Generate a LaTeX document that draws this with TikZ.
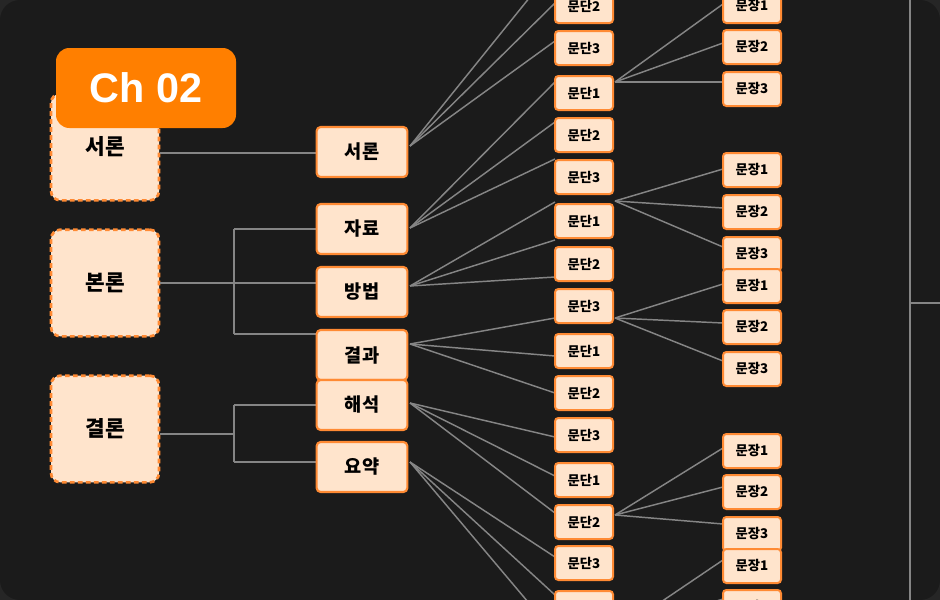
\documentclass[tikz,border=0pt]{standalone}
\usepackage{fontspec}
\setmainfont{Noto Sans CJK KR}
\newfontfamily\badgefont{Liberation Sans}
\definecolor{bgc}{HTML}{1B1B1B}
\definecolor{outc}{HTML}{262626}
\definecolor{peach}{HTML}{FFE4CC}
\definecolor{edgeo}{HTML}{FF8A33}
\definecolor{badge}{HTML}{FF7F00}
\definecolor{linec}{HTML}{858585}
\tikzset{
  pbox/.style={draw=edgeo,fill=peach,line width=1.5pt,rounded corners=2.5pt,minimum width=43.5pt,minimum height=25.5pt,inner sep=0pt,font=\fontsize{10}{12}\selectfont\bfseries},
  mbox/.style={draw=edgeo,fill=peach,line width=1.6pt,rounded corners=3pt,minimum width=68pt,minimum height=37.5pt,inner sep=0pt,font=\fontsize{14}{16}\selectfont\bfseries},
  sbox/.style={draw=edgeo,fill=peach,line width=2pt,dash pattern=on 3.5pt off 2.5pt,rounded corners=7pt,minimum width=81pt,minimum height=80pt,inner sep=0pt,font=\fontsize{16}{18}\selectfont\bfseries},
  conn/.style={draw=linec,line width=1.1pt},
}
\begin{document}
\begin{tikzpicture}[x=0.75pt,y=-0.75pt]
\useasboundingbox (0,0) rectangle (940,600);
\fill[outc] (0,0) rectangle (940,600);
\fill[bgc,rounded corners=15pt] (0,0) rectangle (940,600);
\begin{scope}
\clip (0,0) rectangle (940,600);
\coordinate (vt) at (910,0); \coordinate (vb) at (910,600);
\coordinate (ht) at (910,303); \coordinate (hr) at (940,303);
\draw[conn] (vt) -- (vb); \draw[conn] (ht) -- (hr);
\foreach \o/\oy/\a/\b/\c [count=\i] in {
  seo/146/-34/3/41, jar/228/82/122/159, bang/286/202/240/277,
  gyeol/344/318/356/393, hae/403/437/476/513, yo/462/557/595/634}{
  \coordinate (o\i) at (410,\oy);
  \coordinate (e\i a) at (555,\a); \coordinate (e\i b) at (555,\b); \coordinate (e\i c) at (555,\c);
  \draw[conn] (o\i) -- (e\i a); \draw[conn] (o\i) -- (e\i b); \draw[conn] (o\i) -- (e\i c);
}
\foreach \oy/\a/\b/\c [count=\i] in {82/4/43/82, 201/169/208/247, 318/284/323/361, 515/448/487/524, 633/560/599/638}{
  \coordinate (q\i) at (615,\oy);
  \coordinate (f\i a) at (723,\a); \coordinate (f\i b) at (723,\b); \coordinate (f\i c) at (723,\c);
  \draw[conn] (q\i) -- (f\i a); \draw[conn] (q\i) -- (f\i b); \draw[conn] (q\i) -- (f\i c);
}
\foreach \y/\t [count=\i] in {-36/1,6/2,48/3,93/1,135/2,177/3,221/1,264/2,306/3,351/1,393/2,435/3,480/1,522/2,563/3,608/1}{
  \node[pbox] (p\i) at (584,\y) {문단\t};
}
\foreach \y/\t [count=\i] in {6/1,47/2,89/3,170/1,212/2,254/3,286/1,327/2,369/3,451/1,492/2,534/3,566/1,607/2}{
  \node[pbox] (s\i) at (752,\y) {문장\t};
}
\end{scope}
\node[sbox] (S1) at (105,147) {서론};
\node[sbox] (S2) at (105,283) {본론};
\node[sbox] (S3) at (105,429) {결론};
\draw[conn] (S1.east |- 0,153) -- (317,153);
\coordinate (j2) at (234,283);
\draw[conn] (S2.east) -- (j2);
\draw[conn] (234,229) -- (234,334);
\draw[conn] (234,229) -- (317,229);
\draw[conn] (j2) -- (317,283);
\draw[conn] (234,334) -- (317,334);
\coordinate (j3) at (234,434);
\draw[conn] (S3.east |- 0,434) -- (j3);
\draw[conn] (234,405) -- (234,462);
\draw[conn] (234,405) -- (317,405);
\draw[conn] (234,462) -- (317,462);
\node[mbox] (m1) at (362,152) {서론};
\node[mbox] (m2) at (362,229) {자료};
\node[mbox] (m3) at (362,292) {방법};
\node[mbox] (m4) at (362,355) {결과};
\node[mbox] (m5) at (362,405) {해석};
\node[mbox] (m6) at (362,467) {요약};
\node[fill=badge,rounded corners=10pt,minimum width=135pt,minimum height=60pt,text=white,font=\badgefont\fontsize{31}{34}\selectfont\bfseries] (badge) at (146,88) {Ch 02};
\end{tikzpicture}
\end{document}
